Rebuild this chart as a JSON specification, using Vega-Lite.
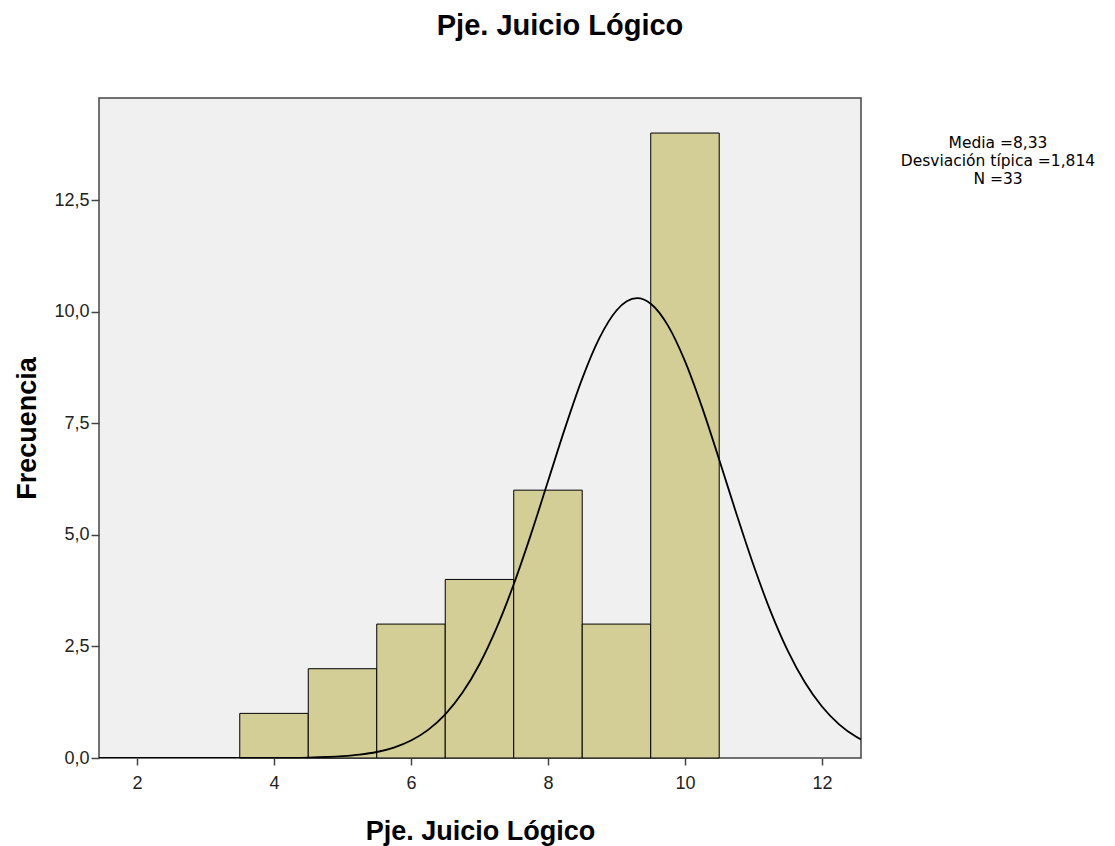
{
  "$schema": "https://vega.github.io/schema/vega-lite/v6.json",
  "autosize": "none",
  "width": 762,
  "height": 660,
  "padding": {"left": 99, "top": 98, "right": 254, "bottom": 88},
  "background": "white",
  "config": {
    "font": "Liberation Sans",
    "locale": {"number": {"decimal": ",", "thousands": ".", "grouping": [3], "currency": ["", "€"]}},
    "view": {"fill": "#f0f0f0", "stroke": "#444444", "strokeWidth": 1.5}
  },
  "title": {
    "text": "Pje. Juicio Lógico",
    "font": "Liberation Sans",
    "fontSize": 29,
    "fontWeight": "bold",
    "color": "#000000",
    "anchor": "middle",
    "dx": 80,
    "offset": 57
  },
  "datasets": {
    "bars": [
      {"lo": 3.5, "hi": 4.5, "count": 1},
      {"lo": 4.5, "hi": 5.5, "count": 2},
      {"lo": 5.5, "hi": 6.5, "count": 3},
      {"lo": 6.5, "hi": 7.5, "count": 4},
      {"lo": 7.5, "hi": 8.5, "count": 6},
      {"lo": 8.5, "hi": 9.5, "count": 3},
      {"lo": 9.5, "hi": 10.5, "count": 14}
    ],
    "curve": [
      {"x": 1.445, "y": 0},
      {"x": 3, "y": 0.0001},
      {"x": 4, "y": 0.0022},
      {"x": 4.5, "y": 0.0101},
      {"x": 5, "y": 0.0398},
      {"x": 5.25, "y": 0.0746},
      {"x": 5.5, "y": 0.1344},
      {"x": 5.75, "y": 0.2335},
      {"x": 6, "y": 0.391},
      {"x": 6.25, "y": 0.6295},
      {"x": 6.5, "y": 0.977},
      {"x": 6.75, "y": 1.46},
      {"x": 7, "y": 2.101},
      {"x": 7.25, "y": 2.914},
      {"x": 7.5, "y": 3.891},
      {"x": 7.75, "y": 5.004},
      {"x": 8, "y": 6.199},
      {"x": 8.25, "y": 7.395},
      {"x": 8.5, "y": 8.499},
      {"x": 8.75, "y": 9.405},
      {"x": 9, "y": 10.025},
      {"x": 9.15, "y": 10.23},
      {"x": 9.3, "y": 10.3},
      {"x": 9.5, "y": 10.177},
      {"x": 9.75, "y": 9.692},
      {"x": 10, "y": 8.89},
      {"x": 10.25, "y": 7.854},
      {"x": 10.5, "y": 6.683},
      {"x": 10.75, "y": 5.477},
      {"x": 11, "y": 4.323},
      {"x": 11.25, "y": 3.286},
      {"x": 11.5, "y": 2.406},
      {"x": 11.75, "y": 1.696},
      {"x": 12, "y": 1.153},
      {"x": 12.25, "y": 0.754},
      {"x": 12.5, "y": 0.475},
      {"x": 12.57, "y": 0.415}
    ]
  },
  "layer": [
    {
      "data": {"name": "bars"},
      "mark": {"type": "rect", "fill": "#d3cd96", "stroke": "#000000", "strokeWidth": 1},
      "encoding": {
        "x": {
          "field": "lo", "type": "quantitative",
          "scale": {"domain": [1.445, 12.57], "nice": false, "zero": false},
          "axis": {
            "title": "Pje. Juicio Lógico",
            "titleFont": "Liberation Sans",
            "titleFontSize": 27,
            "titleFontWeight": "bold",
            "titleColor": "#000000",
            "titleBaseline": "alphabetic",
            "titlePadding": 47,
            "values": [2, 4, 6, 8, 10, 12],
            "format": "d",
            "labelFont": "Liberation Sans",
            "labelFontSize": 18,
            "labelColor": "#222222",
            "labelPadding": 9,
            "tickSize": 7,
            "tickColor": "#444444",
            "tickWidth": 1.5,
            "domain": false,
            "grid": false
          }
        },
        "x2": {"field": "hi"},
        "y": {
          "field": "count", "type": "quantitative",
          "scale": {"domain": [0, 14.785], "nice": false},
          "axis": {
            "title": "Frecuencia",
            "titleFont": "Liberation Sans",
            "titleFontSize": 27,
            "titleFontWeight": "bold",
            "titleColor": "#000000",
            "titlePadding": 12,
            "values": [0, 2.5, 5, 7.5, 10, 12.5],
            "format": ".1f",
            "labelFont": "Liberation Sans",
            "labelFontSize": 18,
            "labelColor": "#222222",
            "labelPadding": 2,
            "tickSize": 8,
            "tickColor": "#444444",
            "tickWidth": 1.5,
            "domain": false,
            "grid": false
          }
        },
        "y2": {"datum": 0}
      }
    },
    {
      "data": {"name": "curve"},
      "mark": {"type": "line", "color": "#000000", "strokeWidth": 1.8, "interpolate": "monotone", "clip": true},
      "encoding": {
        "x": {"field": "x", "type": "quantitative"},
        "y": {"field": "y", "type": "quantitative"}
      }
    },
    {
      "data": {"values": [{"t": ["Media =8,33", "Desviación típica =1,814", "N =33"]}]},
      "mark": {"type": "text", "font": "DejaVu Sans", "fontSize": 15.5, "color": "#000000", "align": "center", "baseline": "top", "lineHeight": 18, "clip": false},
      "encoding": {
        "x": {"datum": 14.57},
        "y": {"datum": 13.93},
        "text": {"field": "t"}
      }
    }
  ]
}
